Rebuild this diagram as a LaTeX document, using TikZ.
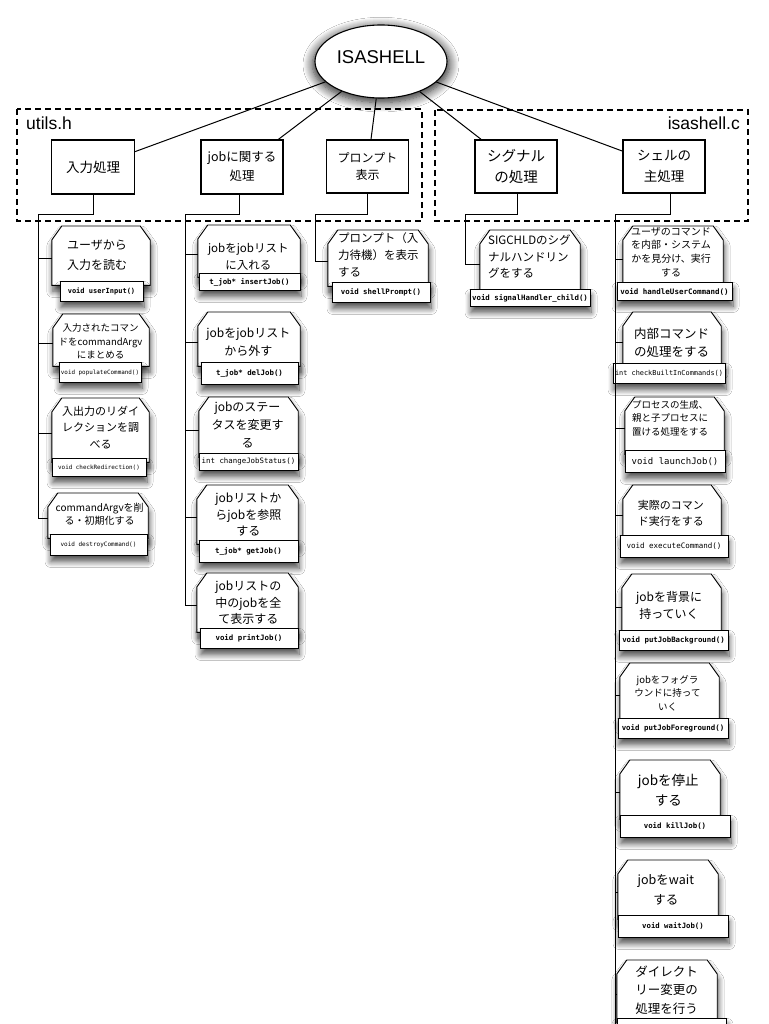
\documentclass[tikz,border=0pt]{standalone}
\usepackage{fontspec}
\setmainfont{Noto Sans CJK JP}
\newfontfamily\hel{Liberation Sans}
\newfontfamily\fmono{DejaVu Sans Mono}
\usetikzlibrary{shapes.geometric,shadows.blur}
\newcommand\setfs[2]{\fontsize{#1}{#2}\selectfont}
\newcommand\monob[1]{\fmono\bfseries\fontsize{#1}{#1}\selectfont}
\newcommand\monor[1]{\fmono\fontsize{#1}{#1}\selectfont}
\tikzset{
  conn/.style={line width=1pt},
  dashbox/.style={line width=1.4pt, dash pattern=on 6pt off 4pt},
  topbox/.style={draw, line width=1.3pt, fill=white, align=center, inner sep=0pt},
  softshadow/.style={blur shadow={shadow xshift=1pt, shadow yshift=-6pt, shadow blur radius=6pt, shadow blur steps=10, shadow opacity=70}},
  upper/.style={draw, line width=0.9pt, fill=white, softshadow},
  func/.style={rectangle, draw, line width=0.9pt, fill=white, inner sep=0pt, softshadow},
  txt/.style={align=center, inner sep=0pt},
  ltxt/.style={align=left, inner sep=0pt, anchor=west},
}
\newcommand\childbox[9]{%
  \node[anchor=north, inner sep=0pt, minimum width={#3-#2}, minimum height={#7+4-#4}] (#1) at ({(#2+#3)/2},#4) {};
  \draw[upper] (#1.south west) -- ([yshift=-14pt]#1.north west) -- ([xshift=10pt]#1.north west) -- ([xshift=-10pt]#1.north east) -- ([yshift=-14pt]#1.north east) -- (#1.south east) -- cycle;
  \node[func, anchor=north, minimum width={#6-#5}, minimum height={#8-#7}] (#1-f) at ({(#5+#6)/2},#7) {#9};
}
\newcommand\ctext[6]{\node[txt, font=\setfs{#4}{#5}] (#1-t) at (#2,#3) {#6};}
\begin{document}
\begin{tikzpicture}[x=1pt,y=-1pt]
\fill[white] (0,0) rectangle (768,1024);
\useasboundingbox (0,0) rectangle (768,1024);

% dashed file groups
\draw[dashbox] (17,109) rectangle (422,221);
\draw[dashbox] (435,110) rectangle (748,221);
\node[font=\hel\setfs{17.5}{18}, anchor=base west, inner sep=0pt] (lu) at (26,130) {utils.h};
\node[font=\hel\setfs{17.5}{18}, anchor=base east, inner sep=0pt] (li) at (740,130) {isashell.c};

% root
\node[ellipse, draw, line width=1.1pt, fill=white, minimum width=132pt, minimum height=73pt, inner sep=0pt, text depth=9pt, font=\hel\setfs{18.5}{20}, blur shadow={shadow xshift=0pt, shadow yshift=-3pt, shadow scale=1.04, shadow blur radius=9pt, shadow blur steps=10, shadow opacity=85}] (root) at (381,61.5) {ISASHELL};

% top boxes
\node[topbox, minimum width=83pt, minimum height=54pt, font=\setfs{13.5}{20}] (b1) at (93,167) {入力処理};
\node[topbox, minimum width=82pt, minimum height=54pt, font=\setfs{12.5}{19}] (b2) at (242,167) {jobに関する\\処理};
\node[topbox, minimum width=82pt, minimum height=53pt, font=\setfs{12}{17}] (b3) at (367.5,166.5) {プロンプト\\表示};
\node[topbox, minimum width=82pt, minimum height=53pt, font=\setfs{14.5}{21.5}] (b4) at (516,166.5) {シグナル\\の処理};
\node[topbox, minimum width=82pt, minimum height=53pt, font=\setfs{13.5}{21.5}] (b5) at (664,166.5) {シェルの\\主処理};

\foreach \bx in {b1,b2,b3,b4,b5} \draw[conn] (root) -- (\bx);

% trunks
\coordinate (t1) at (38,215);
\coordinate (t2) at (185,215);
\coordinate (t3) at (315,215);
\coordinate (t4) at (465,215);
\coordinate (t5) at (615,215);
\coordinate (t5e) at (615,1030);
\draw[conn] (b1.south) |- (t1);
\draw[conn] ([xshift=-3pt]b2.south) |- (t2);
\draw[conn] (b3.south) |- (t3);
\draw[conn] ([xshift=1.5pt]b4.south) |- (t4);
\draw[conn] ([xshift=6pt]b5.south) |- (t5) -- (t5e);

% utils.h : input
\childbox{L1}{52}{150}{226}{60}{143}{281}{301}{\monob{7}void userInput()}
\ctext{L1}{97}{255}{12}{20}{ユーザから\\入力を読む}
\childbox{L2}{53}{149}{314}{59}{141}{362}{382}{\monor{5.9}void populateCommand()}
\ctext{L2}{100.5}{341.7}{9.5}{13.5}{入力されたコマン\\ドをcommandArgv\\にまとめる}
\childbox{L3}{52}{149}{398}{52}{146}{458}{476}{\monor{5.9}void checkRedirection()}
\ctext{L3}{100.5}{427.3}{11}{16.7}{入出力のリダイ\\レクションを調\\べる}
\childbox{L4}{48}{148}{493}{50}{147}{534}{555}{\monor{6}void destroyCommand()}
\ctext{L4}{99.7}{514.7}{10}{13}{commandArgvを削\\る・初期化する}

% utils.h : job
\childbox{M1}{198}{300}{225}{199}{300}{273}{290}{\monob{7.4}t\_job* insertJob()}
\ctext{M1}{248.3}{256.7}{11.5}{16.7}{jobをjobリスト\\に入れる}
\childbox{M2}{198}{300}{312}{201}{298}{362}{384}{\monob{7.4}t\_job* delJob()}
\ctext{M2}{248.3}{342.5}{12}{18.3}{jobをjobリスト\\から外す}
\childbox{M3}{199}{298}{397}{199}{298}{453}{470}{\monor{7.4}int changeJobStatus()}
\ctext{M3}{247.5}{425}{12}{18.3}{jobのステー\\タスを変更す\\る}
\childbox{M4}{197}{298}{485}{199}{298}{540}{562}{\monob{7.4}t\_job* getJob()}
\ctext{M4}{248.3}{515}{12}{16.5}{jobリストか\\らjobを参照\\する}
\childbox{M5}{197}{298}{573}{200}{298}{628}{648}{\monob{7.4}void printJob()}
\ctext{M5}{248.3}{603}{12}{16.5}{jobリストの\\中のjobを全\\て表示する}

% utils.h : prompt
\childbox{P1}{328}{428}{230}{332}{430}{282}{302}{\monob{7.4}void shellPrompt()}
\node[ltxt, font=\setfs{11.5}{16.7}] (P1-t) at (338,255) {プロンプト（入\\力待機）を表示\\する};

% isashell.c : signal
\childbox{S1}{480}{580}{230}{470}{590}{289}{306}{\monob{7.4}void signalHandler\_child()}
\node[ltxt, font=\setfs{11.5}{16.7}] (S1-t) at (488,256.7) {SIGCHLDのシグ\\ナルハンドリン\\グをする};

% isashell.c : main
\childbox{R1}{623}{723}{226}{617}{732}{282}{300}{\monob{7.5}void handleUserCommand()}
\ctext{R1}{671}{252}{10}{13.7}{ユーザのコマンド\\を内部・システム\\かを見分け、実行\\する}
\childbox{R2}{623}{721}{312}{613}{725}{363}{383}{\monor{6.9}int checkBuiltInCommands()}
\ctext{R2}{671.7}{342.5}{12.5}{18.3}{内部コマンド\\の処理をする}
\childbox{R3}{625}{724}{397}{625}{725}{450}{472}{\monor{9}void launchJob()}
\ctext{R3}{670}{418.3}{9.5}{13.8}{プロセスの生成、\\親と子プロセスに\\置ける処理をする}
\childbox{R4}{623}{721}{485}{620}{728}{535}{557}{\monor{7.5}void executeCommand()}
\ctext{R4}{670.8}{513.3}{11}{16.7}{実際のコマン\\ド実行をする}
\childbox{R5}{622}{721}{574}{619}{728}{630}{650}{\monob{7.4}void putJobBackground()}
\ctext{R5}{669}{605}{12}{17}{jobを背景に\\持っていく}
\childbox{R6}{620}{719}{663}{618}{728}{718}{738}{\monob{7.4}void putJobForeground()}
\ctext{R6}{667.5}{693.3}{9.5}{13.3}{jobをフォグラ\\ウンドに持って\\いく}
\childbox{R7}{620}{720}{760}{620}{730}{815}{837}{\monob{7.4}void killJob()}
\ctext{R7}{668.3}{790}{13.5}{20}{jobを停止\\する}
\childbox{R8}{618}{718}{860}{618}{728}{915}{937}{\monob{7.3}void waitJob()}
\ctext{R8}{665.8}{890}{12.5}{20}{jobをwait\\する}
\childbox{R9}{617}{717}{960}{617}{726}{1018}{1040}{}
\ctext{R9}{666.7}{990}{12.5}{18.5}{ダイレクト\\リー変更の\\処理を行う}

% branches
\foreach \nm/\tr in {L1/t1,L2/t1,L3/t1,L4/t1,M1/t2,M2/t2,M3/t2,M4/t2,M5/t2,P1/t3,S1/t4,R1/t5,R2/t5,R3/t5,R4/t5,R5/t5,R6/t5,R7/t5,R8/t5,R9/t5}
  \draw[conn] ([yshift=-3pt]\nm.west) -| (\tr);
\end{tikzpicture}
\end{document}
